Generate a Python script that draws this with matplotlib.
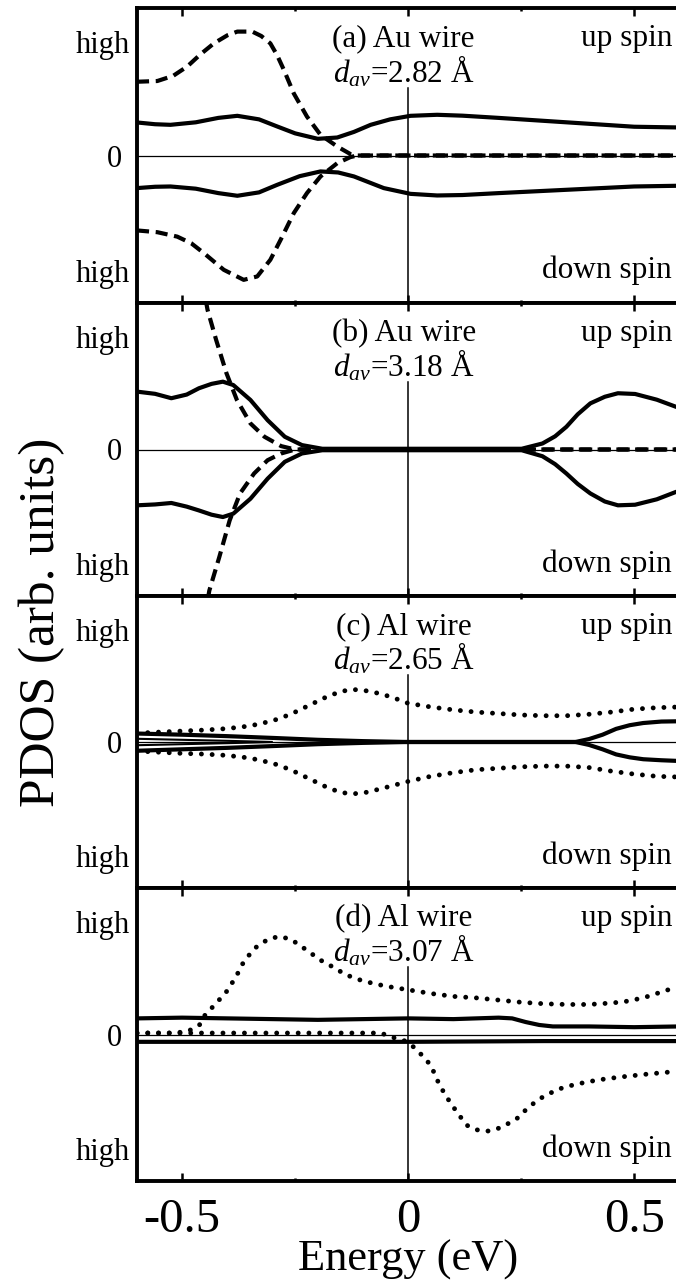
import matplotlib
matplotlib.use("Agg")
import matplotlib.pyplot as plt

plt.rcParams['font.family'] = ['Liberation Serif', 'DejaVu Serif']
plt.rcParams['mathtext.fontset'] = 'custom'
plt.rcParams['mathtext.rm'] = 'Liberation Serif'
plt.rcParams['mathtext.it'] = 'Liberation Serif:italic'
plt.rcParams['axes.unicode_minus'] = False

########
# DATA #
########

# panel labels
panel_titles = ['(a) Au wire', '(b) Au wire', '(c) Al wire', '(d) Al wire']
d_av = ['2.82', '3.18', '2.65', '3.07']
xtick_vals = [-0.5, 0, 0.5]
xtick_text = ['-0.5', '0', '0.5']

# (a) Au wire, d=2.82
a_solid_up_E = [-0.60, -0.56, -0.526, -0.47, -0.42, -0.378, -0.33, -0.29, -0.25, -0.20, -0.157, -0.12,
                -0.083, -0.04, 0.005, 0.064, 0.12, 0.20, 0.30, 0.40, 0.50, 0.60]
a_solid_up = [0.224, 0.212, 0.208, 0.225, 0.255, 0.269, 0.245, 0.197, 0.15, 0.113, 0.122, 0.16,
              0.208, 0.245, 0.269, 0.276, 0.27, 0.255, 0.235, 0.215, 0.195, 0.19]
a_solid_dn_E = [-0.60, -0.56, -0.526, -0.47, -0.42, -0.378, -0.33, -0.29, -0.24, -0.194, -0.155, -0.12,
                -0.054, 0.005, 0.064, 0.12, 0.20, 0.30, 0.40, 0.50, 0.60]
a_solid_dn = [-0.221, -0.212, -0.21, -0.225, -0.255, -0.273, -0.25, -0.199, -0.14, -0.108, -0.115, -0.142,
              -0.221, -0.26, -0.271, -0.268, -0.255, -0.24, -0.225, -0.21, -0.205]
a_dash_up_E = [-0.60, -0.555, -0.52, -0.489, -0.46, -0.43, -0.40, -0.378, -0.345, -0.325, -0.305, -0.29,
               -0.275, -0.253, -0.224, -0.194, -0.157, -0.128, -0.113, 0.60]
a_dash_up = [0.50, 0.505, 0.54, 0.603, 0.685, 0.76, 0.815, 0.84, 0.84, 0.81, 0.76, 0.68,
             0.58, 0.42, 0.264, 0.14, 0.061, 0.01, 0.0, 0.0]
a_dash_dn_E = [-0.60, -0.555, -0.511, -0.48, -0.452, -0.408, -0.364, -0.334, -0.305, -0.282, -0.253, -0.224,
               -0.194, -0.157, -0.128, -0.113, 0.60]
a_dash_dn = [-0.508, -0.52, -0.55, -0.595, -0.662, -0.775, -0.843, -0.82, -0.707, -0.57, -0.39, -0.255,
             -0.142, -0.052, -0.011, 0.0, 0.0]

# (b) Au wire, d=3.18
b_solid_up_E = [-0.60, -0.56, -0.524, -0.49, -0.463, -0.435, -0.41, -0.387, -0.349, -0.311, -0.273, -0.235,
                -0.19, 0.251, 0.297, 0.325, 0.35, 0.375, 0.403, 0.435, 0.464, 0.502, 0.55, 0.592, 0.60]
b_solid_up = [0.395, 0.38, 0.35, 0.375, 0.418, 0.448, 0.463, 0.44, 0.338, 0.20, 0.087, 0.03,
              0.005, 0.005, 0.041, 0.09, 0.155, 0.24, 0.315, 0.36, 0.384, 0.379, 0.34, 0.292, 0.285]
b_solid_dn_E = [-0.60, -0.56, -0.524, -0.49, -0.463, -0.435, -0.41, -0.387, -0.349, -0.311, -0.273, -0.235,
                -0.19, 0.251, 0.297, 0.325, 0.35, 0.375, 0.403, 0.435, 0.464, 0.502, 0.55, 0.592, 0.60]
b_solid_dn = [-0.381, -0.375, -0.365, -0.39, -0.416, -0.445, -0.461, -0.438, -0.336, -0.199, -0.084, -0.027,
              -0.005, -0.005, -0.046, -0.10, -0.164, -0.235, -0.30, -0.355, -0.381, -0.377, -0.34, -0.29, -0.283]
b_dash_up_E = [-0.47, -0.444, -0.425, -0.402, -0.379, -0.349, -0.318, -0.281, -0.25, 0.60]
b_dash_up = [1.40, 0.954, 0.749, 0.52, 0.338, 0.178, 0.087, 0.023, 0.0, 0.0]
b_dash_dn_E = [-0.465, -0.44, -0.418, -0.395, -0.372, -0.341, -0.311, -0.281, -0.25, 0.60]
b_dash_dn = [-1.40, -0.963, -0.735, -0.484, -0.30, -0.164, -0.073, -0.027, 0.0, 0.0]

# (c) Al wire, d=2.65
c_dot_up_E = [-0.60, -0.55, -0.50, -0.45, -0.40, -0.35, -0.30, -0.26, -0.22, -0.18, -0.15, -0.125,
              -0.10, -0.06, -0.03, 0.00, 0.05, 0.10, 0.15, 0.20, 0.25, 0.30, 0.35, 0.40,
              0.45, 0.50, 0.55, 0.60]
c_dot_up = [0.06, 0.068, 0.075, 0.082, 0.092, 0.11, 0.145, 0.19, 0.25, 0.31, 0.345, 0.36,
            0.355, 0.33, 0.30, 0.265, 0.24, 0.22, 0.205, 0.195, 0.185, 0.18, 0.18, 0.19,
            0.205, 0.225, 0.235, 0.24]
c_dot_dn_E = c_dot_up_E
c_dot_dn = [-0.062, -0.07, -0.078, -0.083, -0.092, -0.11, -0.145, -0.19, -0.25, -0.31, -0.345, -0.355,
            -0.35, -0.32, -0.295, -0.27, -0.235, -0.21, -0.19, -0.18, -0.17, -0.165, -0.165, -0.175,
            -0.20, -0.22, -0.235, -0.24]
c_solid_up_E = [-0.60, -0.50, -0.40, -0.30, -0.20, -0.10, 0.00, 0.37, 0.40, 0.43, 0.46, 0.49, 0.52, 0.56, 0.60]
c_solid_up = [0.058, 0.05, 0.04, 0.028, 0.015, 0.006, 0.0, 0.0, 0.02, 0.05, 0.09, 0.115, 0.13, 0.14, 0.142]
c_solid_dn_E = [-0.60, -0.50, -0.40, -0.30, -0.20, -0.10, 0.00, 0.37, 0.40, 0.43, 0.46, 0.49, 0.52, 0.56, 0.60]
c_solid_dn = [-0.06, -0.05, -0.04, -0.028, -0.015, -0.006, 0.0, 0.0, -0.02, -0.05, -0.085, -0.105, -0.118, -0.125, -0.13]
c_inner_E = [-0.60, -0.50, -0.40, -0.30]
c_inner_up = [0.022, 0.015, 0.008, 0.0]
c_inner_dn = [-0.022, -0.015, -0.008, 0.0]

# (d) Al wire, d=3.07
d_dot_up_E = [-0.60, -0.52, -0.49, -0.475, -0.46, -0.45, -0.42, -0.40, -0.38, -0.365, -0.35, -0.335,
              -0.31, -0.285, -0.26, -0.24, -0.22, -0.19, -0.16, -0.14, -0.10, -0.05, 0.00, 0.05,
              0.10, 0.15, 0.20, 0.25, 0.30, 0.35, 0.40, 0.45, 0.48, 0.52, 0.56, 0.60]
d_dot_up = [0.01, 0.01, 0.02, 0.04, 0.07, 0.13, 0.23, 0.30, 0.40, 0.49, 0.55, 0.60,
            0.65, 0.67, 0.65, 0.61, 0.565, 0.50, 0.45, 0.41, 0.365, 0.33, 0.305, 0.28,
            0.26, 0.25, 0.235, 0.22, 0.21, 0.205, 0.205, 0.215, 0.225, 0.25, 0.29, 0.33]
d_dot_dn_E = [-0.60, -0.52, -0.06, -0.04, -0.01, 0.01, 0.03, 0.05, 0.07, 0.09, 0.11, 0.13,
              0.15, 0.175, 0.20, 0.22, 0.242, 0.265, 0.29, 0.33, 0.37, 0.42, 0.47, 0.53, 0.60]
d_dot_dn = [0.01, 0.01, 0.01, -0.015, -0.04, -0.08, -0.14, -0.21, -0.35, -0.45, -0.54, -0.62,
            -0.65, -0.66, -0.64, -0.61, -0.57, -0.50, -0.44, -0.375, -0.34, -0.31, -0.29, -0.27, -0.25]
d_solid_up_E = [-0.60, -0.50, -0.40, -0.30, -0.20, -0.10, 0.00, 0.10, 0.20, 0.23, 0.26, 0.29, 0.32, 0.40, 0.50, 0.60]
d_solid_up = [0.11, 0.115, 0.11, 0.105, 0.10, 0.105, 0.11, 0.105, 0.115, 0.11, 0.085, 0.065, 0.055, 0.055, 0.05, 0.055]
d_solid_dn_E = [-0.60, -0.30, 0.00, 0.30, 0.60]
d_solid_dn = [-0.05, -0.05, -0.05, -0.045, -0.045]

########
# PLOT #
########

fig = plt.figure(figsize=(6.76, 12.85), dpi=100)
H = 1285.0
tops = [8, 303, 596, 888]
bots = [303, 596, 888, 1181]
left = 137 / 676.0
width = (1.2 * 452) / 676.0

lw = 3.0
solid = dict(color='k', lw=lw, solid_capstyle='butt', solid_joinstyle='round', zorder=3)
dashed = dict(color='k', lw=lw, dashes=(2.9, 1.6), zorder=3)
dotted = dict(color='k', lw=3.5, linestyle=(0, (0.01, 2.2)), dash_capstyle='round', zorder=3)

curves = [
    [(a_solid_up_E, a_solid_up, solid), (a_solid_dn_E, a_solid_dn, solid),
     (a_dash_up_E, a_dash_up, dashed), (a_dash_dn_E, a_dash_dn, dashed)],
    [(b_dash_up_E, b_dash_up, dashed), (b_dash_dn_E, b_dash_dn, dashed),
     (b_solid_up_E, b_solid_up, solid), (b_solid_dn_E, b_solid_dn, solid)],
    [(c_dot_up_E, c_dot_up, dotted), (c_dot_dn_E, c_dot_dn, dotted),
     (c_solid_up_E, c_solid_up, solid), (c_solid_dn_E, c_solid_dn, solid),
     (c_inner_E, c_inner_up, dict(solid, lw=1.5)), (c_inner_E, c_inner_dn, dict(solid, lw=1.5))],
    [(d_dot_up_E, d_dot_up, dotted), (d_dot_dn_E, d_dot_dn, dotted),
     (d_solid_up_E, d_solid_up, solid), (d_solid_dn_E, d_solid_dn, solid)],
]

for i in range(4):
    ax = fig.add_axes([left, 1 - bots[i] / H, width, (bots[i] - tops[i]) / H])
    ax.set_xlim(-0.6, 0.6)
    ax.set_ylim(-1, 1)
    ax.axhline(0, color='k', lw=0.9, zorder=2)
    ax.axvline(0, ymax=0.73, color='k', lw=1.1, zorder=2)
    for E, y, st in curves[i]:
        ax.plot(E, y, **st)

    for s in ['left', 'top', 'bottom']:
        ax.spines[s].set_linewidth(2.8)
    ax.spines['right'].set_visible(False)

    ax.set_xticks(xtick_vals)
    ax.set_xticks([-0.25, 0.25], minor=True)
    ax.tick_params(axis='x', which='both', direction='in', top=True, bottom=True, width=1.8)
    ax.tick_params(axis='x', which='major', length=5.5)
    ax.tick_params(axis='x', which='minor', length=2.5)
    if i == 3:
        ax.set_xticklabels(xtick_text, fontsize=35)
        ax.tick_params(axis='x', which='major', pad=12)
    else:
        ax.set_xticklabels([])

    ax.set_yticks([-0.78, 0, 0.77])
    ax.set_yticklabels(['high', '0 ', 'high'], fontsize=22)
    ax.tick_params(axis='y', length=0, pad=5)

    ax.text(-0.01, 0.79, panel_titles[i], ha='center', va='center', fontsize=22.5)
    ax.text(-0.01, 0.57, r'$d_{av}$=' + d_av[i] + ' Å', ha='center', va='center', fontsize=22.5)
    ax.text(0.584, 0.79, 'up spin', ha='right', va='center', fontsize=22.5)
    ax.text(0.584, -0.78, 'down spin', ha='right', va='center', fontsize=22.5)

fig.text(408 / 676.0, 1 - 1260 / H, 'Energy (eV)', ha='center', va='center', fontsize=32)
fig.text(42 / 676.0, 1 - 622 / H, 'PDOS (arb. units)', ha='center', va='center', rotation=90, fontsize=37)

plt.savefig('out.png', dpi=100)
